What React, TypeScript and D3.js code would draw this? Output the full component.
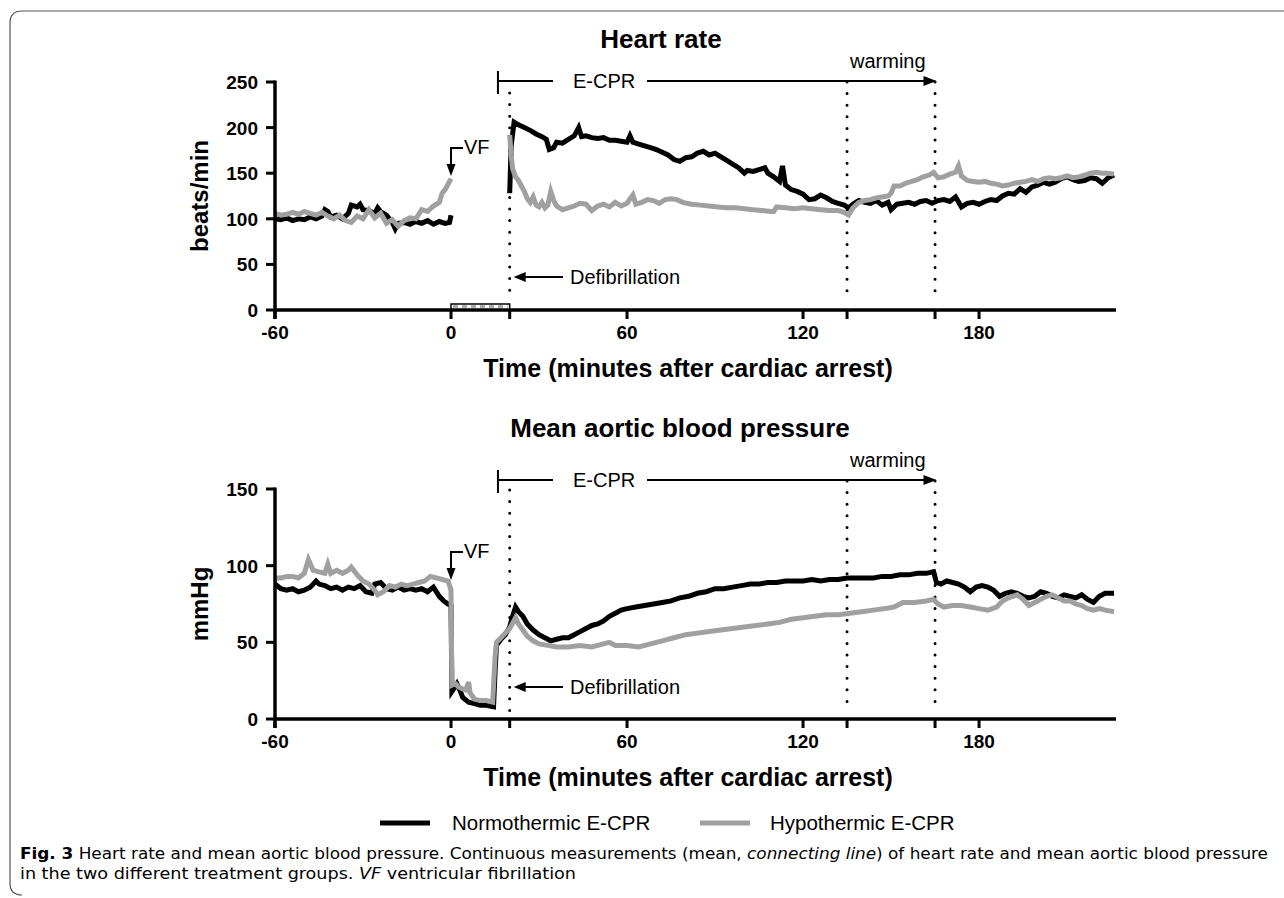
import React from "react";
import * as d3 from "d3";

// ---------- DATA ----------
const xTicks = [-60, 0, 20, 60, 120, 135, 165, 180];
const xTickLabels = [-60, 0, 60, 120, 180];
const hrTicks = [0, 50, 100, 150, 200, 250];
const mapTicks = [0, 50, 100, 150];
const eventTimes = [20, 135, 165];

// Heart rate, normothermic (null = no data during VF / CPR)
const hrNormoT = [-60,-58,-56,-54,-52,-50,-48,-46,-44,-43,-42,-41,-39,-37,-35,-34,-32,-31,-30,-28,-26,-25,-24,-22,-20,-19,-18,-16,-14,-12,-10,-8,-6,-4,-2,-0.5,0,10,20,20.5,21.5,23,25,27,29,31,32.5,33.5,35,36,38,40,42,43.5,44.5,46,48,50,52,54,56,58,60,61,62,64,66,68,70,72,74,76,78,80,82,84,86,88,90,92,94,96,98,100,101,103,105,107,108,110,112,113,114,116,118,120,122,124,126,128,130,132,134,135.5,137,139,141,143,145,147,149,150,152,154,156,158,160,162,164,166,168,170,172,174,176,178,180,182,184,186,188,190,192,194,196,198,200,202,204,206,208,210,212,214,216,218,220,222,224,226];
const hrNormoV = [100,99,101,98,100,99,102,100,103,110,108,102,104,100,106,115,113,116,110,109,106,112,108,104,96,89,95,96,94,97,95,98,94,97,95,96,104,null,128,180,206,203,200,197,193,190,187,176,178,184,183,187,191,200,190,191,189,188,189,186,186,185,184,191,184,182,180,178,176,173,170,165,163,167,168,172,174,170,172,168,164,160,156,150,153,152,154,156,150,146,141,158,137,132,130,127,121,122,126,123,119,117,115,112,116,120,118,117,120,115,118,110,116,117,118,116,119,120,117,120,121,119,124,113,117,118,116,119,121,120,125,128,127,133,129,135,137,140,138,140,144,146,143,141,142,145,144,139,145,148];

// Heart rate, hypothermic
const hrHypoT = [-60,-58,-56,-54,-52,-50,-48,-46,-44,-42,-40,-38,-36,-34,-32,-30,-28,-26,-24,-22,-20,-18,-16,-14,-12,-10,-8,-6,-4,-3,-2,-1,0,10,20,20.5,21,22,23,24,25,26,27,28,29,30,31,32,33,34,35,36,38,40,42,44,46,48,50,52,54,56,58,60,62,63,65,67,69,71,73,75,77,79,82,85,88,91,94,97,100,103,106,109,110,111,114,117,120,123,126,129,132,134,135.5,137,139,141,143,145,147,149,150,151,153,155,157,159,161,163,164.5,166,168,170,172,173,174,176,178,180,182,184,186,188,190,192,194,196,198,200,202,204,206,208,210,212,214,216,218,220,222,224,226];
const hrHypoV = [106,104,105,107,105,108,106,104,107,103,100,104,98,96,103,100,110,101,106,95,99,92,98,101,100,110,108,114,118,128,132,138,144,null,192,170,155,146,142,136,130,122,118,124,115,113,118,112,115,130,120,114,110,112,114,117,116,109,114,116,113,118,114,117,126,116,118,121,120,117,121,122,121,118,116,115,114,113,112,112,111,110,109,108,108,113,112,111,112,111,110,109,109,107,104,112,118,120,121,123,124,125,128,136,136,139,141,143,146,148,151,145,146,149,151,158,147,142,141,140,141,139,138,136,137,139,140,141,143,141,144,145,144,145,147,145,146,148,150,151,150,150,149];

// Mean aortic blood pressure, normothermic
const mapNormoT = [-60,-58,-56,-54,-52,-50,-48,-46,-45,-43,-41,-39,-37,-35,-33,-31,-29,-27,-26,-24,-22,-20,-18,-16,-14,-12,-10,-8,-6,-4,-2.5,-1,0,0.3,1,2,3,4,6,8,10,12,14.5,15,15.5,17,18.5,20,21,22,23,24.5,26,28,30,32,34,36,38,40,42,44,46,48,50,52,54,56,58,60,63,66,69,72,75,78,81,84,87,90,93,96,99,102,105,108,111,114,117,120,123,126,129,132,135,138,141,144,147,150,153,156,159,162,164.5,165.5,167,169,171,173,175,177,179,181,183,185,187,189,191,193,195,197,199,201,203,205,207,209,211,213,215,217,219,221,223,226];
const mapNormoV = [88,85,84,85,83,84,86,90,88,87,85,86,84,86,85,87,83,82,88,89,85,84,86,84,85,84,85,83,86,80,77,75,74,18,20,23,19,14,11,10,9,9,8,30,48,52,55,60,67,73,70,67,62,58,55,53,51,52,53,53,55,57,59,61,62,64,67,69,71,72,73,74,75,76,77,79,80,82,83,85,85,86,87,88,88,89,89,90,90,90,91,90,91,91,92,92,92,92,93,93,94,94,95,95,96,89,88,90,89,88,86,83,86,87,86,84,80,82,83,82,80,79,80,83,82,80,79,81,80,79,81,78,76,80,82,82];

// Mean aortic blood pressure, hypothermic
const mapHypoT = [-60,-58,-56,-54,-52,-50,-48.6,-47,-45,-43,-42,-41,-39,-37,-35,-34,-32,-30,-28,-26,-25,-23,-21,-19,-17,-15,-13,-11,-9,-7,-5,-3,-1,0,0.3,1.5,2.5,3.5,5,6,6.5,8,10,12,14.2,15,15.5,17,18.5,20,22,23,24.5,26,28,30,33,36,40,44,48,52,54,56,60,64,68,72,76,80,84,88,92,96,100,104,108,112,116,120,124,128,132,136,140,144,148,151,154,158,162,164.5,166,168,171,174,177,180,183,186,188,190,193,195,197,199,201,203,205,207,209,211,213,215,217,219,221,223,226];
const mapHypoV = [92,92,93,93,92,95,104,97,96,95,101,95,97,95,97,99,94,90,88,84,81,83,87,86,88,87,88,89,90,93,92,91,90,84,22,23,21,20,19,24,17,13,12,12,11,40,50,53,56,59,66,62,58,54,51,49,48,47,47,48,47,49,50,48,48,47,49,51,53,55,56,57,58,59,60,61,62,63,65,66,67,68,68,69,70,71,72,73,76,76,77,78,75,73,74,74,73,72,71,73,77,79,81,78,74,76,78,80,81,79,77,77,75,74,72,71,72,71,70];

const titles = ["Heart rate", "Mean aortic blood pressure"];
const yTitles = ["beats/min", "mmHg"];
const xTitle = "Time (minutes after cardiac arrest)";
const legendLabels = ["Normothermic E-CPR", "Hypothermic E-CPR"];

// ---------- STYLE ----------
const BLACK = "#000";
const GRAY = "#a0a0a0";
const FONT = "'Liberation Sans', Arial, Helvetica, sans-serif";
const CAPTION_FONT = "'DejaVu Sans Condensed', 'Liberation Sans Narrow', 'Liberation Sans', sans-serif";

const xScale = d3.scaleLinear().domain([-60, 226]).range([275, 1114]);

type PanelProps = {
  yScale: d3.ScaleLinear<number, number>;
  yTicks: number[];
  series: { t: number[]; v: (number | null)[]; color: string }[];
  title: string;
  titleX: number;
  titleY: number;
  yTitle: string;
  arrowY: number;
  vfY: number;
  defY: number;
  showVfMarker: boolean;
  dot20Top: number;
  dotBottom: number;
  dot20Bottom: number;
};

function Panel(p: PanelProps) {
  const y0 = p.yScale(0);
  const yTop = p.yScale.range()[1];
  const line = d3
    .line<[number, number | null]>()
    .defined((d) => d[1] !== null)
    .x((d) => xScale(d[0]))
    .y((d) => p.yScale(d[1] as number));
  const x20 = xScale(20);
  const ecprStart = xScale(16);
  const arrowEnd = xScale(165.5);
  const x0 = xScale(0);
  return (
    <g>
      <text x={p.titleX} y={p.titleY} textAnchor="middle" fontFamily={FONT} fontWeight="bold" fontSize={26}>
        {p.title}
      </text>
      {eventTimes.map((t, i) => (
        <line
          key={t}
          x1={xScale(t)}
          x2={xScale(t)}
          y1={i === 0 ? p.dot20Top : p.arrowY + 1}
          y2={i === 0 ? p.dot20Bottom : p.dotBottom}
          stroke={BLACK}
          strokeWidth={3}
          strokeLinecap="round"
          strokeDasharray="0 11.6"
        />
      ))}
      {p.series.map((s, i) => (
        <path
          key={i}
          d={line(s.t.map((t, k) => [t, s.v[k]]) as [number, number | null][]) || ""}
          fill="none"
          stroke={s.color}
          strokeWidth={5}
          strokeLinejoin="miter"
        />
      ))}
      <line x1={xScale(-60)} x2={1116} y1={y0} y2={y0} stroke={BLACK} strokeWidth={3.5} />
      <line x1={xScale(-60)} x2={xScale(-60)} y1={yTop - 1.5} y2={y0 + 9} stroke={BLACK} strokeWidth={3.5} />
      {xTicks.map((t) => (
        <line key={t} x1={xScale(t)} x2={xScale(t)} y1={y0} y2={y0 + 9} stroke={BLACK} strokeWidth={3} />
      ))}
      {xTickLabels.map((t) => (
        <text key={t} x={xScale(t)} y={y0 + 29} textAnchor="middle" fontFamily={FONT} fontWeight="bold" fontSize={19}>
          {t}
        </text>
      ))}
      {p.yTicks.map((v) => (
        <g key={v}>
          <line x1={xScale(-60) - 9} x2={xScale(-60)} y1={p.yScale(v)} y2={p.yScale(v)} stroke={BLACK} strokeWidth={3} />
          <text x={258} y={p.yScale(v) + 7} textAnchor="end" fontFamily={FONT} fontWeight="bold" fontSize={19}>
            {v}
          </text>
        </g>
      ))}
      <text
        transform={`translate(208,${(y0 + yTop) / 2}) rotate(-90)`}
        textAnchor="middle"
        fontFamily={FONT}
        fontWeight="bold"
        fontSize={24}
      >
        {p.yTitle}
      </text>
      <text x={688} y={y0 + 67} textAnchor="middle" fontFamily={FONT} fontWeight="bold" fontSize={25}>
        {xTitle}
      </text>
      <line x1={ecprStart} x2={ecprStart} y1={p.arrowY - 10} y2={p.arrowY + 13} stroke={BLACK} strokeWidth={2} />
      <line x1={ecprStart} x2={553} y1={p.arrowY} y2={p.arrowY} stroke={BLACK} strokeWidth={2} />
      <text x={573} y={p.arrowY + 7} fontFamily={FONT} fontSize={20}>E-CPR</text>
      <line x1={647} x2={arrowEnd - 10} y1={p.arrowY} y2={p.arrowY} stroke={BLACK} strokeWidth={2} />
      <path d={`M${arrowEnd},${p.arrowY} L${arrowEnd - 13},${p.arrowY - 5} L${arrowEnd - 13},${p.arrowY + 5} Z`} fill={BLACK} />
      <text x={850} y={p.arrowY - 13} fontFamily={FONT} fontSize={20}>warming</text>
      <path d={`M${x0 + 12},${p.vfY} H${x0} V${p.vfY + 20}`} fill="none" stroke={BLACK} strokeWidth={2} />
      <path d={`M${x0},${p.vfY + 28} L${x0 - 4.5},${p.vfY + 16} L${x0 + 4.5},${p.vfY + 16} Z`} fill={BLACK} />
      <text x={x0 + 13} y={p.vfY + 6} fontFamily={FONT} fontSize={20}>VF</text>
      <line x1={x20 + 12} x2={563} y1={p.defY} y2={p.defY} stroke={BLACK} strokeWidth={2} />
      <path d={`M${x20 + 4},${p.defY} L${x20 + 16},${p.defY - 5} L${x20 + 16},${p.defY + 5} Z`} fill={BLACK} />
      <text x={570} y={p.defY + 7} fontFamily={FONT} fontSize={20}>Defibrillation</text>
      {p.showVfMarker && (
        <g>
          <rect x={x0} y={y0 - 6} width={x20 - x0} height={5} fill="#fff" stroke={BLACK} strokeWidth={1.5} />
          <line x1={x0 + 2} x2={x20 - 2} y1={y0 - 3.5} y2={y0 - 3.5} stroke={GRAY} strokeWidth={2.5} strokeDasharray="5 4" />
        </g>
      )}
    </g>
  );
}

export default function App() {
  const yHR = d3.scaleLinear().domain([0, 250]).range([310, 82]);
  const yMAP = d3.scaleLinear().domain([0, 150]).range([719, 489]);
  return (
    <svg width={1284} height={898} style={{ position: "absolute", left: 0, top: 0, background: "#fff" }}>
      <rect x={0} y={0} width={1284} height={898} fill="#fff" />
      <path d="M1284,11 H22 Q10,11 10,23 V883 Q10,895 22,895" fill="none" stroke="#555" strokeWidth={1.2} />
      <Panel
        yScale={yHR}
        yTicks={hrTicks}
        series={[
          { t: hrNormoT, v: hrNormoV, color: BLACK },
          { t: hrHypoT, v: hrHypoV, color: GRAY },
        ]}
        title={titles[0]}
        titleX={661}
        titleY={48}
        yTitle={yTitles[0]}
        arrowY={81}
        vfY={148}
        defY={277}
        showVfMarker={true}
        dot20Top={93}
        dotBottom={300}
        dot20Bottom={300}
      />
      <Panel
        yScale={yMAP}
        yTicks={mapTicks}
        series={[
          { t: mapNormoT, v: mapNormoV, color: BLACK },
          { t: mapHypoT, v: mapHypoV, color: GRAY },
        ]}
        title={titles[1]}
        titleX={680}
        titleY={437}
        yTitle={yTitles[1]}
        arrowY={480}
        vfY={552}
        defY={687}
        showVfMarker={false}
        dot20Top={490}
        dotBottom={709}
        dot20Bottom={716}
      />
      <line x1={380} x2={430} y1={823} y2={823} stroke={BLACK} strokeWidth={5} />
      <text x={452} y={830} fontFamily={FONT} fontSize={20.5}>{legendLabels[0]}</text>
      <line x1={700} x2={750} y1={823} y2={823} stroke={GRAY} strokeWidth={5} />
      <text x={770} y={830} fontFamily={FONT} fontSize={20.5}>{legendLabels[1]}</text>
      <text x={20} y={859} fontFamily={CAPTION_FONT} fontSize={16} textLength={1248} lengthAdjust="spacingAndGlyphs">
        <tspan fontWeight="bold">Fig. 3</tspan>
        <tspan>{"  Heart rate and mean aortic blood pressure. Continuous measurements (mean, "}</tspan>
        <tspan fontStyle="italic">connecting line</tspan>
        <tspan>) of heart rate and mean aortic blood pressure</tspan>
      </text>
      <text x={20} y={879} fontFamily={CAPTION_FONT} fontSize={16} textLength={556} lengthAdjust="spacingAndGlyphs">
        <tspan>in the two different treatment groups. </tspan>
        <tspan fontStyle="italic">VF</tspan>
        <tspan> ventricular fibrillation</tspan>
      </text>
    </svg>
  );
}
